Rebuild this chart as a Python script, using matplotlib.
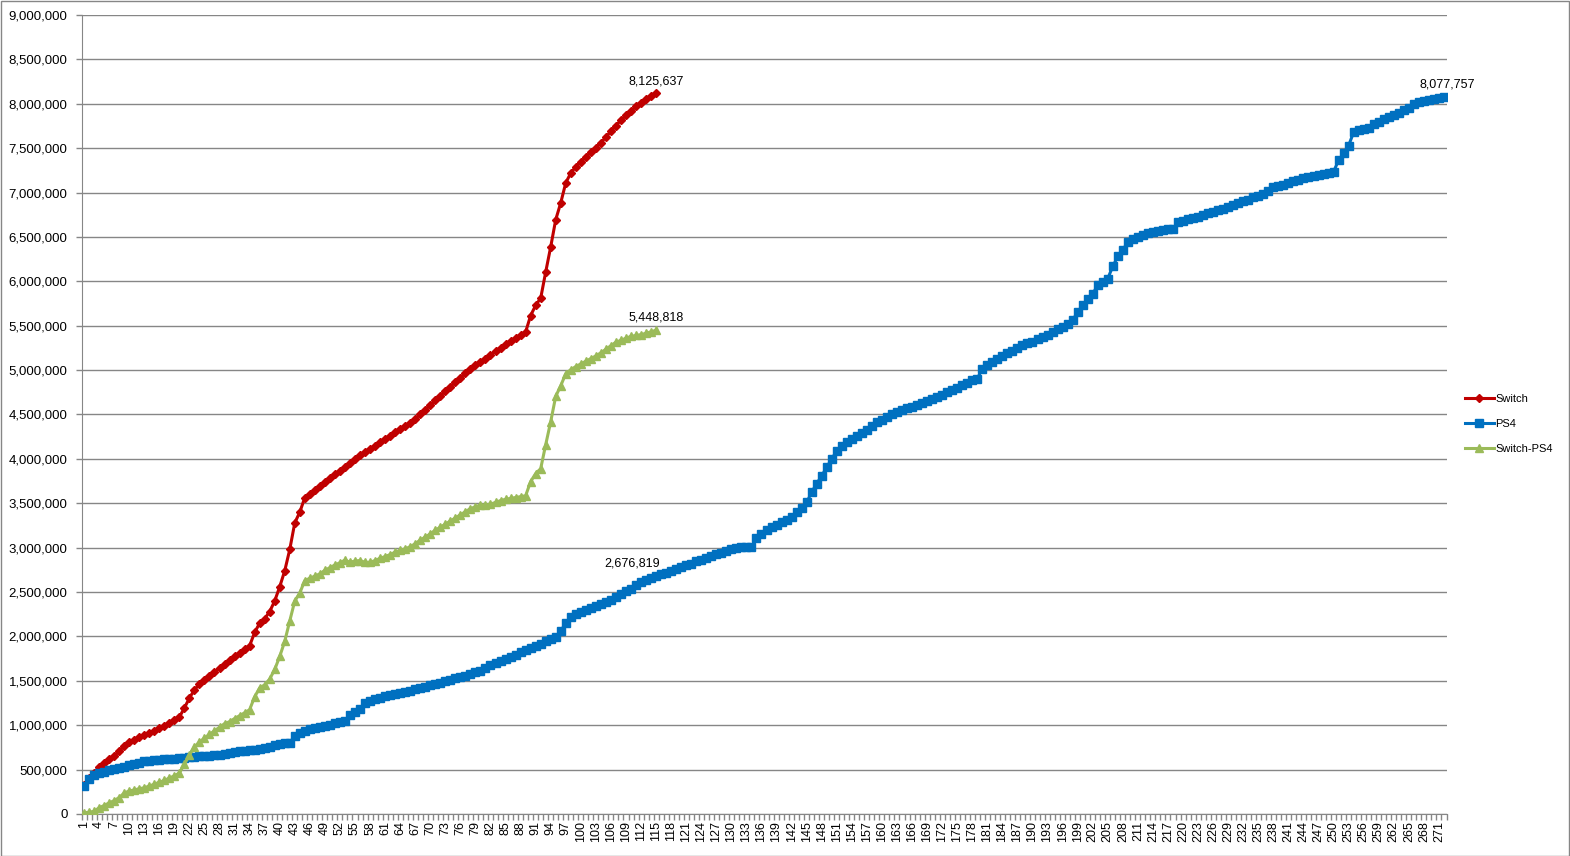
import matplotlib
matplotlib.use("Agg")
import matplotlib.pyplot as plt
from matplotlib.patches import Rectangle
from matplotlib.ticker import FuncFormatter, MultipleLocator

# weekly cumulative sales, week 1 onwards
switch_sales = [
    330000, 410000, 465000, 530000, 570000, 615000, 655000, 705000, 770000, 810000,
    835000, 865000, 890000, 915000, 940000, 970000, 995000, 1025000, 1055000, 1090000,
    1195000, 1305000, 1400000, 1460000, 1510000, 1555000, 1600000, 1645000, 1690000, 1730000,
    1775000, 1815000, 1855000, 1895000, 2045000, 2150000, 2200000, 2280000, 2400000, 2560000,
    2740000, 2980000, 3280000, 3400000, 3565000, 3610000, 3650000, 3690000, 3740000, 3780000,
    3825000, 3865000, 3910000, 3955000, 4000000, 4040000, 4080000, 4110000, 4150000, 4190000,
    4225000, 4260000, 4300000, 4335000, 4365000, 4400000, 4450000, 4505000, 4555000, 4605000,
    4660000, 4710000, 4765000, 4815000, 4865000, 4915000, 4965000, 5015000, 5055000, 5095000,
    5130000, 5170000, 5210000, 5250000, 5290000, 5325000, 5360000, 5395000, 5430000, 5615000,
    5730000, 5810000, 6105000, 6390000, 6695000, 6885000, 7110000, 7220000, 7290000, 7345000,
    7400000, 7455000, 7505000, 7560000, 7625000, 7690000, 7755000, 7815000, 7870000, 7920000,
    7970000, 8010000, 8050000, 8090000, 8125637,
]

ps4_sales = [
    316000, 390000, 435000, 460000, 475000, 490000, 505000, 520000, 535000, 550000,
    565000, 580000, 595000, 600000, 605000, 612000, 617000, 620000, 625000, 628000,
    635000, 640000, 645000, 650000, 655000, 658000, 663000, 668000, 673000, 690000,
    700000, 708000, 715000, 720000, 725000, 730000, 745000, 760000, 772000, 785000,
    795000, 805000, 880000, 910000, 935000, 955000, 970000, 985000, 995000, 1005000,
    1020000, 1035000, 1050000, 1120000, 1150000, 1185000, 1245000, 1275000, 1295000, 1310000,
    1325000, 1338000, 1350000, 1365000, 1378000, 1390000, 1405000, 1420000, 1435000, 1450000,
    1463000, 1480000, 1500000, 1515000, 1530000, 1545000, 1560000, 1575000, 1595000, 1613000,
    1650000, 1680000, 1700000, 1720000, 1745000, 1770000, 1795000, 1820000, 1845000, 1870000,
    1895000, 1920000, 1945000, 1970000, 1990000, 2060000, 2150000, 2215000, 2250000, 2275000,
    2300000, 2325000, 2345000, 2365000, 2390000, 2415000, 2440000, 2480000, 2510000, 2540000,
    2580000, 2610000, 2635000, 2658000, 2676819,
    2700000, 2720000, 2740000, 2760000, 2780000,
    2800000, 2820000, 2845000, 2865000, 2885000, 2905000, 2925000, 2945000, 2965000, 2985000,
    3000000, 3005000, 3008000, 3010000, 3110000, 3155000, 3195000, 3230000, 3260000, 3285000,
    3310000, 3340000, 3400000, 3450000, 3510000, 3625000, 3720000, 3810000, 3905000, 4000000,
    4090000, 4150000, 4190000, 4225000, 4260000, 4295000, 4330000, 4370000, 4410000, 4440000,
    4470000, 4500000, 4530000, 4553000, 4570000, 4590000, 4612000, 4635000, 4655000, 4675000,
    4695000, 4720000, 4748000, 4775000, 4800000, 4830000, 4860000, 4885000, 4905000, 5015000,
    5060000, 5095000, 5128000, 5160000, 5190000, 5220000, 5250000, 5280000, 5300000, 5320000,
    5345000, 5370000, 5400000, 5430000, 5460000, 5490000, 5520000, 5560000, 5655000, 5730000,
    5805000, 5860000, 5955000, 5995000, 6030000, 6170000, 6280000, 6355000, 6440000, 6475000,
    6500000, 6520000, 6540000, 6555000, 6565000, 6575000, 6585000, 6595000, 6670000, 6685000,
    6700000, 6715000, 6730000, 6745000, 6765000, 6785000, 6805000, 6820000, 6840000, 6860000,
    6880000, 6900000, 6920000, 6945000, 6965000, 6985000, 7020000, 7060000, 7075000, 7090000,
    7110000, 7125000, 7140000, 7160000, 7177000, 7190000, 7200000, 7212000, 7225000, 7235000,
    7365000, 7440000, 7530000, 7680000, 7700000, 7715000, 7725000, 7775000, 7800000, 7825000,
    7850000, 7875000, 7900000, 7925000, 7947000, 8000000, 8015000, 8030000, 8042000, 8055000,
    8066000, 8077757,
]

switch_minus_ps4 = [
    14000, 20000, 30000, 70000, 95000, 125000, 150000, 185000, 235000, 260000,
    270000, 285000, 295000, 315000, 335000, 358000, 378000, 405000, 430000, 462000,
    560000, 665000, 755000, 810000, 855000, 897000, 937000, 977000, 1017000, 1040000,
    1075000, 1107000, 1140000, 1175000, 1320000, 1420000, 1455000, 1520000, 1628000, 1775000,
    1945000, 2175000, 2400000, 2490000, 2630000, 2655000, 2680000, 2705000, 2745000, 2775000,
    2805000, 2830000, 2860000, 2835000, 2850000, 2855000, 2835000, 2835000, 2855000, 2880000,
    2900000, 2922000, 2950000, 2970000, 2987000, 3010000, 3045000, 3085000, 3120000, 3155000,
    3197000, 3230000, 3265000, 3300000, 3335000, 3370000, 3405000, 3440000, 3460000, 3482000,
    3480000, 3490000, 3510000, 3530000, 3545000, 3555000, 3565000, 3575000, 3585000, 3745000,
    3835000, 3890000, 4160000, 4420000, 4705000, 4825000, 4960000, 5005000, 5040000, 5070000,
    5100000, 5130000, 5160000, 5195000, 5235000, 5275000, 5315000, 5335000, 5360000, 5380000,
    5390000, 5400000, 5415000, 5432000, 5448818,
]

weeks = list(range(1, len(ps4_sales) + 1))
tick_weeks = list(range(1, len(ps4_sales) + 1, 3))

plt.rcParams['font.family'] = ['Liberation Sans', 'DejaVu Sans']

W, H = 1570, 856
fig = plt.figure(figsize=(W / 100, H / 100), dpi=100)
ax = fig.add_axes([81.5 / W, 1 - 814 / H, 1365 / W, 799 / H])

grid_col = '#868686'

ax.plot(weeks[:len(switch_sales)], switch_sales, color='#C00000', lw=2.2,
        marker='D', markersize=4.5, label='Switch', zorder=3)
ax.plot(weeks, ps4_sales, color='#0070C0', lw=2.2,
        marker='s', markersize=5.5, label='PS4', zorder=3)
ax.plot(weeks[:len(switch_minus_ps4)], switch_minus_ps4, color='#9BBB59', lw=2.2,
        marker='^', markersize=6, label='Switch-PS4', zorder=3)

ax.set_xlim(0.5, len(ps4_sales) + 0.5)
ax.set_ylim(0, 9000000)

# y axis
ax.yaxis.set_major_locator(MultipleLocator(500000))
ax.yaxis.set_major_formatter(FuncFormatter(lambda v, p: f'{int(v):,}'))
ax.yaxis.grid(True, color=grid_col, linewidth=1)
ax.set_axisbelow(True)
ax.tick_params(axis='y', length=4, width=1, color=grid_col, pad=6, labelsize=9.5)

# x axis: labels every 3 weeks, tick marks between categories
ax.set_xticks(tick_weeks)
ax.set_xticklabels([str(w) for w in tick_weeks], rotation=90)
ax.set_xticks([w + 0.5 for w in range(0, len(ps4_sales) + 1)], minor=True)
ax.tick_params(axis='x', which='major', length=0, pad=5, labelsize=9)
ax.tick_params(axis='x', which='minor', length=4, width=1, color=grid_col)

for side in ['top', 'right']:
    ax.spines[side].set_visible(False)
for side in ['left', 'bottom']:
    ax.spines[side].set_color(grid_col)

# end-of-series value labels
n_sw = len(switch_sales)
n_ps = len(ps4_sales)
ax.annotate(f'{switch_sales[-1]:,}', (n_sw, switch_sales[-1]), xytext=(0, 11),
            textcoords='offset pixels', ha='center', va='center', fontsize=9)
ax.annotate(f'{switch_minus_ps4[-1]:,}', (n_sw, switch_minus_ps4[-1]), xytext=(0, 13),
            textcoords='offset pixels', ha='center', va='center', fontsize=9)
ax.annotate(f'{ps4_sales[n_sw - 1]:,}', (n_sw, ps4_sales[n_sw - 1]), xytext=(-24, 13),
            textcoords='offset pixels', ha='center', va='center', fontsize=9)
ax.annotate(f'{ps4_sales[-1]:,}', (n_ps, ps4_sales[-1]), xytext=(3, 12),
            textcoords='offset pixels', ha='center', va='center', fontsize=9)

fig.legend(loc='center left', bbox_to_anchor=(1455 / W, 1 - 424 / H), frameon=False,
           fontsize=8, handlelength=2.6, handletextpad=0.1, labelspacing=1.35)

# chart area border
fig.patches.append(Rectangle((0.5 / W, 0.5 / H), (W - 1.5) / W, (H - 1.5) / H,
                             transform=fig.transFigure, fill=False,
                             edgecolor=grid_col, linewidth=1))

fig.savefig('out.png', dpi=100)
